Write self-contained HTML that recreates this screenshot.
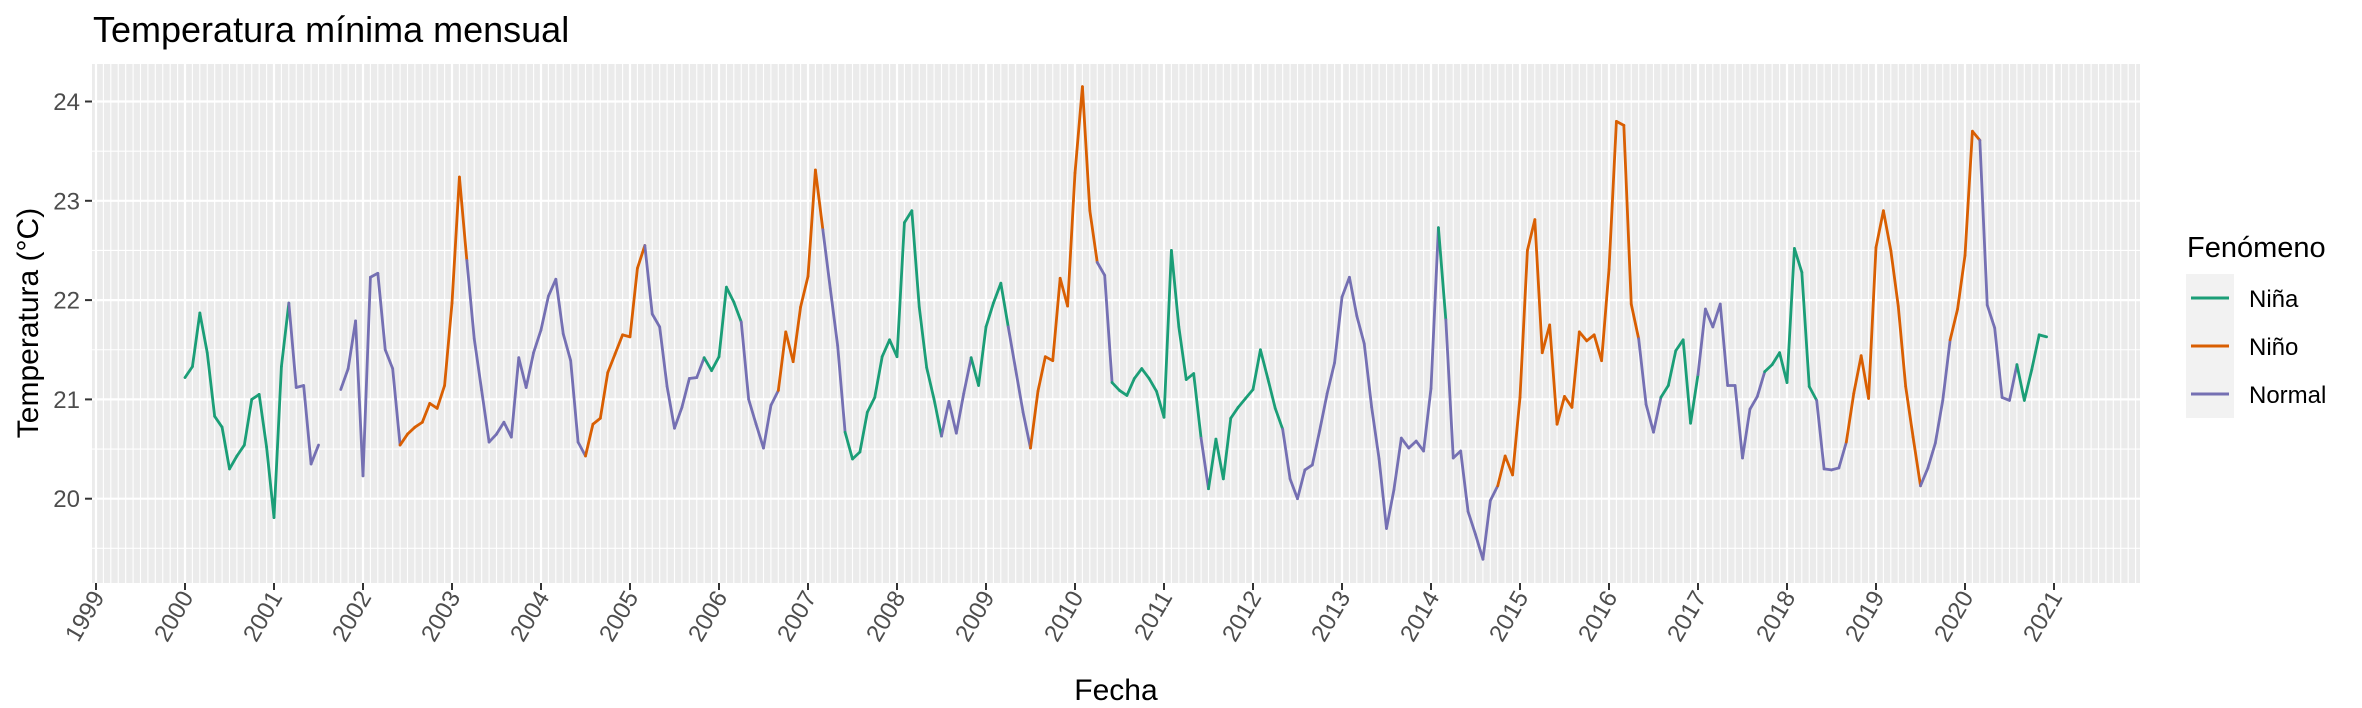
<!DOCTYPE html>
<html><head><meta charset="utf-8"><style>
html,body{margin:0;padding:0;background:#fff;}
svg{display:block;font-family:"Liberation Sans",sans-serif;}
</style></head><body>
<svg id="chart" width="2362" height="708" viewBox="0 0 2362 708" xmlns="http://www.w3.org/2000/svg">
<text x="93" y="42" font-size="36" fill="#000">Temperatura mínima mensual</text>
<rect x="92" y="64" width="2048" height="519" fill="#EBEBEB"/>
<g id="grid"></g>
<g id="series"></g>
<g id="axes"></g>
<text x="1116" y="700" font-size="30" text-anchor="middle" fill="#000">Fecha</text>
<text transform="translate(38,323) rotate(-90)" font-size="30" text-anchor="middle" fill="#000">Temperatura (°C)</text>
<g>
<text x="2187" y="257" font-size="29" fill="#000">Fenómeno</text>
<rect x="2186" y="274" width="48" height="144" fill="#F2F2F2"/>
<g><line x1="2191" y1="298" x2="2229" y2="298" stroke="#1B9E77" stroke-width="3"/><text x="2249" y="307" font-size="24" fill="#000">Niña</text></g>
<g><line x1="2191" y1="346" x2="2229" y2="346" stroke="#D95F02" stroke-width="3"/><text x="2249" y="355" font-size="24" fill="#000">Niño</text></g>
<g><line x1="2191" y1="394" x2="2229" y2="394" stroke="#7570B3" stroke-width="3"/><text x="2249" y="403" font-size="24" fill="#000">Normal</text></g>
</g>
</svg>
<script>
const years = [2000,2001,2002,2003,2004,2005,2006,2007,2008,2009,2010,2011,2012,2013,2014,2015,2016,2017,2018,2019,2020];
const temps2000 = [21.22,21.33,21.87,21.47,20.83,20.72,20.30,20.43,20.54,21.00,21.05,20.52];
const temps2001 = [19.81,21.33,21.97,21.12,21.14,20.35,20.54,null,null,21.10,21.31,21.79];
const temps2002 = [20.23,22.23,22.27,21.50,21.31,20.54,20.65,20.72,20.77,20.96,20.91,21.14];
const temps2003 = [21.97,23.24,22.40,21.61,21.09,20.57,20.65,20.77,20.62,21.42,21.12,21.47];
const temps2004 = [21.70,22.04,22.21,21.66,21.39,20.57,20.43,20.75,20.81,21.27,21.46,21.65];
const temps2005 = [21.63,22.32,22.55,21.86,21.73,21.13,20.71,20.92,21.21,21.22,21.42,21.29];
const temps2006 = [21.43,22.13,21.98,21.78,21.00,20.75,20.51,20.94,21.09,21.68,21.38,21.93];
const temps2007 = [22.24,23.31,22.71,22.12,21.54,20.67,20.40,20.47,20.87,21.02,21.43,21.60];
const temps2008 = [21.43,22.78,22.90,21.93,21.32,21.00,20.63,20.98,20.66,21.06,21.42,21.14];
const temps2009 = [21.73,21.97,22.17,21.73,21.30,20.87,20.51,21.08,21.43,21.39,22.22,21.94];
const temps2010 = [23.28,24.15,22.90,22.38,22.25,21.17,21.09,21.04,21.21,21.31,21.21,21.08];
const temps2011 = [20.82,22.50,21.73,21.20,21.26,20.61,20.10,20.60,20.20,20.81,20.92,21.01];
const temps2012 = [21.10,21.50,21.21,20.91,20.70,20.20,20.00,20.29,20.34,20.69,21.06,21.37];
const temps2013 = [22.03,22.23,21.84,21.56,20.92,20.40,19.70,20.09,20.61,20.51,20.58,20.48];
const temps2014 = [21.11,22.73,21.80,20.41,20.48,19.87,19.64,19.39,19.98,20.13,20.43,20.24];
const temps2015 = [21.02,22.50,22.81,21.47,21.75,20.75,21.03,20.92,21.68,21.59,21.65,21.39];
const temps2016 = [22.31,23.80,23.76,21.96,21.61,20.95,20.67,21.02,21.14,21.49,21.60,20.76];
const temps2017 = [21.25,21.91,21.73,21.96,21.14,21.14,20.41,20.90,21.03,21.28,21.35,21.47];
const temps2018 = [21.17,22.52,22.28,21.13,20.99,20.30,20.29,20.31,20.57,21.06,21.44,21.01];
const temps2019 = [22.53,22.90,22.50,21.94,21.13,20.62,20.13,20.31,20.56,20.99,21.60,21.91];
const temps2020 = [22.45,23.70,23.61,21.95,21.72,21.02,20.99,21.35,20.99,21.30,21.65,21.63];
// A = Niña, O = Niño, N = Normal (one letter per month)
const phases = ["AAAAAAAAAAAA","AANNNNNNNNNN","NNNNNOOOOOOO","OONNNNNNNNNN","NNNNNNOOOOOO","OONNNNNNNNAA","AAANNNNNOOOO","OONNNAAAAAAA","AAAAAANNNNAA","AAANNNOOOOOO","OOONNAAAAAAA","AAAAANAAAAAA","AAAANNNNNNNN","NNNNNNNNNNNN","NANNNNNNNOOO","OOOOOOOOOOOO","OOOONNNAAAAA","NNNNNNNNNAAA","AAAANNNNOOOO","OOOOOONNNNOO","OONNNNNAAAAA"];
const yTicks = [20,21,22,23,24];
const xTickYears = [1999,2000,2001,2002,2003,2004,2005,2006,2007,2008,2009,2010,2011,2012,2013,2014,2015,2016,2017,2018,2019,2020,2021];
const phaseColors = {A:"#1B9E77", O:"#D95F02", N:"#7570B3"};

const allTemps = [temps2000,temps2001,temps2002,temps2003,temps2004,temps2005,temps2006,temps2007,temps2008,temps2009,temps2010,temps2011,temps2012,temps2013,temps2014,temps2015,temps2016,temps2017,temps2018,temps2019,temps2020];
const NS = "http://www.w3.org/2000/svg";
const PL = 92, PR = 2140, PT = 64, PB = 583;
function xs(t){ return 185 + (t - 2000) * 89; }
function ys(v){ return 498.7 - (v - 20) * 99.3; }
function mk(tag, attrs, parent){ const e = document.createElementNS(NS, tag); for (const k in attrs) e.setAttribute(k, attrs[k]); parent.appendChild(e); return e; }

const grid = document.getElementById('grid');
// minor vertical (monthly) gridlines
for (let y = 1998; y <= 2022; y++) for (let m = 0; m < 12; m++) {
  const x = xs(y + m / 12);
  if (x <= PL || x >= PR) continue;
  const major = m === 0;
  const l = mk('line', {x1:x, x2:x, y1:PT, y2:PB, stroke:'#fff', 'stroke-width': major ? 2.2 : 1.1}, grid);
  
  
}
for (let v = 19.5; v <= 24.3; v += 0.5) {
  const y = ys(v);
  const major = Math.abs(v - Math.round(v)) < 0.01;
  const l = mk('line', {x1:PL, x2:PR, y1:y, y2:y, stroke:'#fff', 'stroke-width': major ? 2.2 : 1.1}, grid);
  
  
}

// series
const series = document.getElementById('series');
const pts = [];
years.forEach((yr, i) => {
  allTemps[i].forEach((v, m) => pts.push({t: yr + m / 12, v: v, c: phases[i][m]}));
});
for (let i = 0; i < pts.length - 1; i++) {
  const a = pts[i], b = pts[i + 1];
  if (a.v === null || b.v === null) continue;
  const seg = mk('line', {x1:xs(a.t), y1:ys(a.v), x2:xs(b.t), y2:ys(b.v), stroke:phaseColors[a.c], 'stroke-width':2.8, 'stroke-linecap':'round'}, series);
  
  
}

// axes
const axes = document.getElementById('axes');
yTicks.forEach(v => {
  const y = ys(v);
  const tk = mk('line', {x1:PL - 7, x2:PL, y1:y, y2:y, stroke:'#333', 'stroke-width':2}, axes);
  
  
  const tx = mk('text', {x:PL - 12, y:y + 8.5, 'font-size':24, 'text-anchor':'end', fill:'#4D4D4D'}, axes);
  tx.textContent = String(v);
  
  
});
xTickYears.forEach(yr => {
  const x = xs(yr);
  const tk = mk('line', {x1:x, x2:x, y1:PB, y2:PB + 7, stroke:'#333', 'stroke-width':2}, axes);
  
  
  const tx = mk('text', {transform:'translate(' + (x + 9) + ',' + (PB + 14) + ') rotate(-60)', 'font-size':24, 'text-anchor':'end', fill:'#4D4D4D'}, axes);
  tx.textContent = String(yr);
  
  
});
</script>
</body></html>
